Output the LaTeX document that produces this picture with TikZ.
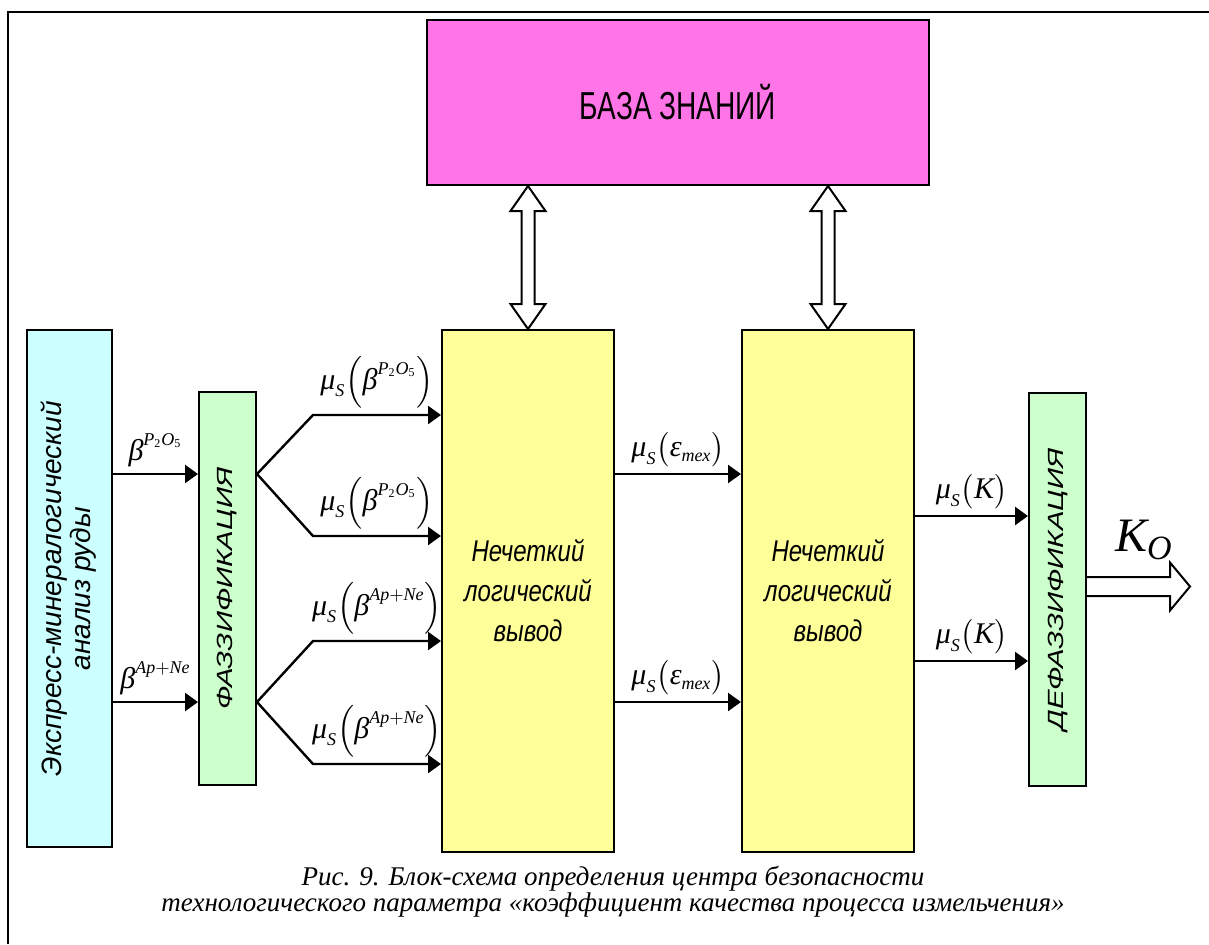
\documentclass[tikz,border=0pt]{standalone}
\usepackage{fontspec}
\usepackage{amsmath}
\setmainfont{Liberation Serif}
\newfontfamily\kbfont[FakeStretch=0.72]{Liberation Sans}
\newfontfamily\inffont[FakeStretch=0.8]{Liberation Sans}
\newfontfamily\widefont[FakeStretch=1.34]{Liberation Sans}
\newfontfamily\arialfont{Liberation Sans}
\usetikzlibrary{calc,arrows.meta}

\DeclareMathSizes{15}{15}{9}{6}
\DeclareMathSizes{24}{24}{17}{12}

\definecolor{exprcol}{RGB}{204,255,255}
\definecolor{fuzzcol}{RGB}{204,255,204}
\definecolor{infcol}{RGB}{255,255,153}
\definecolor{kbcol}{RGB}{255,117,232}

\newcommand{\tv}[1]{\text{\normalfont\itshape #1}}
\newcommand{\tn}[1]{\text{\normalfont #1}}
\newcommand{\muS}{\tv{μ}_{\tv{S}}}
\newcommand{\betaP}{\tv{β}^{\tv{P}_{\tn{2}}\tv{O}_{\tn{5}}}}
\newcommand{\betaA}{\tv{β}^{\tv{Ap}+\tv{Ne}}}
\newcommand{\epsT}{\tv{ε}_{\tv{тех}}}

\begin{document}
\begin{tikzpicture}
	[
		x=0.5pt, y=-0.5pt,
		block/.style = {shape=rectangle, draw, line width=1pt, anchor=center, inner sep=0pt},
		exprblock/.style = {block, fill=exprcol, minimum width=42.5pt, minimum height=258.5pt},
		fuzzblock/.style = {block, fill=fuzzcol, minimum width=28.5pt, minimum height=196.5pt,
			font=\widefont\itshape\fontsize{11}{12}\selectfont},
		infblock/.style = {block, fill=infcol, minimum width=86pt, minimum height=261pt, align=center,
			font=\inffont\itshape\fontsize{15}{20}\selectfont},
		kbblock/.style = {block, fill=kbcol, minimum width=251pt, minimum height=82.5pt,
			font=\kbfont\fontsize{19.5}{19.5}\selectfont},
		flow/.style = {line width=1.2pt, -{Triangle[length=6.5pt, width=9pt]}},
		hollow/.style = {draw, line width=1pt, line join=miter},
		sig/.style = {above, inner sep=3pt, font=\fontsize{15}{15}\selectfont}
	]
	
	\useasboundingbox (0,0) rectangle (1209,944);
	\draw [line width=0.6pt] (8,944) -- (8,12) -- (1209,12);
	
	% blocks
	\node [kbblock] (kb) at (678, 102.5) {БАЗА ЗНАНИЙ};
	\node [exprblock] (expr) at (69.5, 588.5) {\rotatebox{90}{\arialfont\itshape\fontsize{14}{13.5}\selectfont
		\begin{tabular}{@{}c@{}}Экспресс-минералогический\\анализ руды\end{tabular}}};
	\node [fuzzblock] (fuzz) at (227.5, 588.5) {\rotatebox{90}{ФАЗЗИФИКАЦИЯ}};
	\node [infblock] (inf1) at (528, 591) {Нечеткий\\логический\\вывод};
	\node [infblock] (inf2) at (828, 591) {Нечеткий\\логический\\вывод};
	\node [fuzzblock] (defuzz) at (1057.5, 589.5) {\rotatebox{90}{ДЕФАЗЗИФИКАЦИЯ}};
	
	% signal levels
	\coordinate (sP) at (0,474);
	\coordinate (sA) at (0,702);
	\coordinate (b1) at (313,415);
	\coordinate (b2) at (313,536);
	\coordinate (b3) at (313,641);
	\coordinate (b4) at (313,764);
	\coordinate (k1) at (0,516);
	\coordinate (k2) at (0,661);
	
	% analysis -> fuzzification
	\draw [flow] (expr.east |- sP) -- node [sig] {$\betaP$} (fuzz.west |- sP);
	\draw [flow] (expr.east |- sA) -- node [sig] {$\betaA$} (fuzz.west |- sA);
	
	% fuzzification -> inference
	\draw [flow] (fuzz.east |- sP) -- (b1) -- node [sig] {$\muS\Bigl(\betaP\Bigr)$} (inf1.west |- b1);
	\draw [flow] (fuzz.east |- sP) -- (b2) -- node [sig] {$\muS\Bigl(\betaP\Bigr)$} (inf1.west |- b2);
	\draw [flow] (fuzz.east |- sA) -- (b3) -- node [sig] {$\muS\Bigl(\betaA\Bigr)$} (inf1.west |- b3);
	\draw [flow] (fuzz.east |- sA) -- (b4) -- node [sig] {$\muS\Bigl(\betaA\Bigr)$} (inf1.west |- b4);
	
	% inference -> inference
	\draw [flow] (inf1.east |- sP) -- node [sig] {$\muS\bigl(\epsT\bigr)$} (inf2.west |- sP);
	\draw [flow] (inf1.east |- sA) -- node [sig] {$\muS\bigl(\epsT\bigr)$} (inf2.west |- sA);
	
	% inference -> defuzzification
	\draw [flow] (inf2.east |- k1) -- node [sig] {$\muS\bigl(\tv{K}\bigr)$} (defuzz.west |- k1);
	\draw [flow] (inf2.east |- k2) -- node [sig] {$\muS\bigl(\tv{K}\bigr)$} (defuzz.west |- k2);
	
	% knowledge base <-> inference
	\def\tgt{inf1}
	\coordinate (t) at (kb.south -| \tgt.north);
	\coordinate (u) at (\tgt.north);
	\draw [hollow] (t) -- ($(t)+(17.5,25)$) -- ($(t)+(6.5,25)$) -- ($(u)+(6.5,-25)$) -- ($(u)+(17.5,-25)$)
		-- (u) -- ($(u)+(-17.5,-25)$) -- ($(u)+(-6.5,-25)$) -- ($(t)+(-6.5,25)$) -- ($(t)+(-17.5,25)$) -- cycle;
	
	\def\tgt{inf2}
	\coordinate (t) at (kb.south -| \tgt.north);
	\coordinate (u) at (\tgt.north);
	\draw [hollow] (t) -- ($(t)+(17.5,25)$) -- ($(t)+(6.5,25)$) -- ($(u)+(6.5,-25)$) -- ($(u)+(17.5,-25)$)
		-- (u) -- ($(u)+(-17.5,-25)$) -- ($(u)+(-6.5,-25)$) -- ($(t)+(-6.5,25)$) -- ($(t)+(-17.5,25)$) -- cycle;
	
	% output
	\coordinate (kend) at (1190,586.5);
	\coordinate (kstart) at (defuzz.east |- kend);
	\draw [hollow] ($(kstart)+(0,-9.5)$) -- ($(kend)+(-20,-9.5)$) -- ($(kend)+(-20,-24)$) -- (kend)
		-- ($(kend)+(-20,24)$) -- ($(kend)+(-20,9.5)$) -- ($(kstart)+(0,9.5)$);
	\node (ko) at (1144,540) {\fontsize{24}{24}\selectfont$\tv{K}_{\tv{O}}$};
	
	% caption
	\node [align=center, font=\itshape\fontsize{13.5}{13}\selectfont] (caption) at (613,892)
		{Рис. 9. Блок-схема определения центра безопасности\\технологического параметра «коэффициент качества процесса измельчения»};
	
\end{tikzpicture}
\end{document}
